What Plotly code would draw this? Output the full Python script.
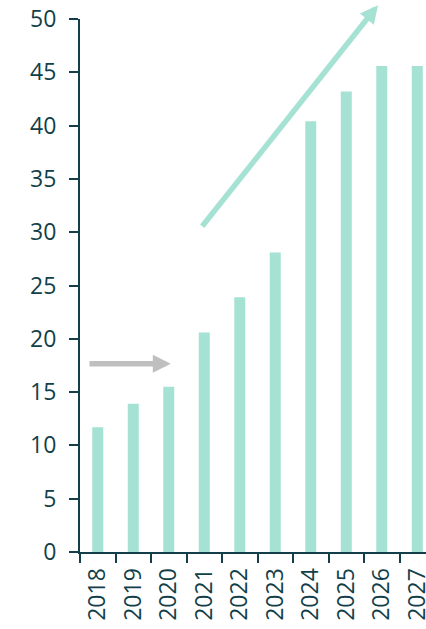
import plotly.graph_objects as go

years = ["2018", "2019", "2020", "2021", "2022", "2023", "2024", "2025", "2026", "2027"]
values = [11.7, 13.9, 15.5, 20.6, 23.9, 28.1, 40.4, 43.2, 45.6, 45.6]
y_ticks = [0, 5, 10, 15, 20, 25, 30, 35, 40, 45, 50]

BAR = "#a6e2d3"
INK = "#123f4a"
GRAY = "#bfbfbf"

fig = go.Figure()
fig.add_trace(go.Bar(x=years, y=values, marker=dict(color=BAR, line=dict(width=0)), width=0.31,
                     hoverinfo="skip"))

fig.add_annotation(x=2.055, y=17.66, ax=-0.275, ay=17.66, xref="x", yref="y", axref="x", ayref="y",
                   text="", showarrow=True, arrowhead=2, arrowsize=0.65, arrowwidth=5.5, arrowcolor=GRAY)
fig.add_annotation(x=7.894, y=51.3, ax=2.908, ay=30.42, xref="x", yref="y", axref="x", ayref="y",
                   text="", showarrow=True, arrowhead=2, arrowsize=0.65, arrowwidth=5.5, arrowcolor=BAR)

fig.update_layout(
    width=426, height=629,
    margin=dict(l=80, r=0, t=19, b=77),
    paper_bgcolor="white", plot_bgcolor="white",
    showlegend=False,
    font=dict(family="Open Sans", size=23, color=INK),
)
fig.update_xaxes(
    type="category", range=[-0.5, 9.246], automargin=False,
    showline=True, linecolor=INK, linewidth=2,
    ticks="outside", ticklen=9, tickwidth=2, tickcolor=INK, tickson="boundaries",
    tickangle=-90, showgrid=False, zeroline=False, ticklabelstandoff=5,
)
fig.update_yaxes(
    range=[0, 50], tickvals=y_ticks, automargin=False,
    showline=True, linecolor=INK, linewidth=2,
    ticks="outside", ticklen=9, tickwidth=2, tickcolor=INK,
    showgrid=False, zeroline=False, ticklabelstandoff=8,
)

fig.write_html("out.html", config={"displayModeBar": False},
               post_script="document.body.style.margin='0';document.body.style.overflow='hidden';")
